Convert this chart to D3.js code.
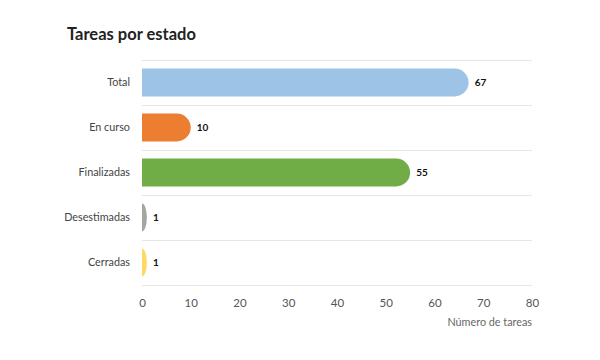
<!DOCTYPE html>
<html><head><meta charset="utf-8">
<script src="https://cdn.jsdelivr.net/npm/d3@7"></script>
<style>body{margin:0;background:#fff;font-family:Lato,"Open Sans",sans-serif;}</style>
</head><body><svg id="c" width="600" height="360"></svg>
<script>
const categories = ["Total","En curso","Finalizadas","Desestimadas","Cerradas"];
const values = [67,10,55,1,1];
const colors = ["#9DC3E6","#ED7D31","#70AD47","#A5A5A5","#FFD966"];
const xTicks = [0,10,20,30,40,50,60,70,80];

const FONT = "Lato,'Open Sans',sans-serif";
const svg = d3.select("#c").attr("font-family",FONT);
const m = {left:142, right:68, top:60, bottom:75};
const W = 600, H = 360;
const x = d3.scaleLinear().domain([0,80]).range([m.left, W-m.right]);
const y = d3.scaleBand().domain(categories).range([m.top, H-m.bottom]).paddingInner(0.38).paddingOuter(0.19);

svg.append("text").attr("x",67).attr("y",40).text("Tareas por estado")
  .attr("font-size",16.5).attr("font-weight",700).attr("fill","#222");

// separators
const bounds = d3.range(categories.length+1).map(i => m.top + i*(H-m.bottom-m.top)/categories.length);
svg.selectAll("line.sep").data(bounds).join("line")
  .attr("x1",x(0)).attr("x2",x(80)).attr("y1",d=>d+0.5).attr("y2",d=>d+0.5)
  .attr("stroke","#e6e6e6").attr("stroke-width",1);

function barPath(x0,y0,w,h){
  const ry=h/2, rx=Math.min(w,ry);
  return `M${x0},${y0}H${x0+w-rx}A${rx},${ry} 0 0 1 ${x0+w},${y0+ry}A${rx},${ry} 0 0 1 ${x0+w-rx},${y0+h}H${x0}Z`;
}
const data = categories.map((c,i)=>({c, v:values[i], col:colors[i]}));
svg.selectAll("path.bar").data(data).join("path")
  .attr("d",d=>barPath(x(0),y(d.c),x(d.v)-x(0),y.bandwidth()))
  .attr("fill",d=>d.col);

svg.selectAll("text.val").data(data).join("text")
  .attr("x",d=>x(d.v)+6).attr("y",d=>y(d.c)+y.bandwidth()/2).attr("dy","0.35em")
  .attr("font-size",10).attr("font-weight",700).attr("fill","#111").text(d=>d.v);

svg.selectAll("text.cat").data(categories).join("text")
  .attr("x",130).attr("y",d=>y(d)+y.bandwidth()/2).attr("dy","0.35em")
  .attr("text-anchor","end").attr("font-size",10.8).attr("fill","#444").text(d=>d);

const ax = svg.append("g").attr("transform",`translate(0,${H-m.bottom})`)
  .call(d3.axisBottom(x).tickValues(xTicks).tickSize(0).tickPadding(14));
ax.select(".domain").remove();
ax.selectAll("text").attr("font-size",11.5).attr("fill","#555").attr("font-family",FONT);

svg.append("text").attr("x",x(80)).attr("y",326).attr("text-anchor","end")
  .attr("font-size",10.8).attr("fill","#666").text("Número de tareas");
</script></body></html>
